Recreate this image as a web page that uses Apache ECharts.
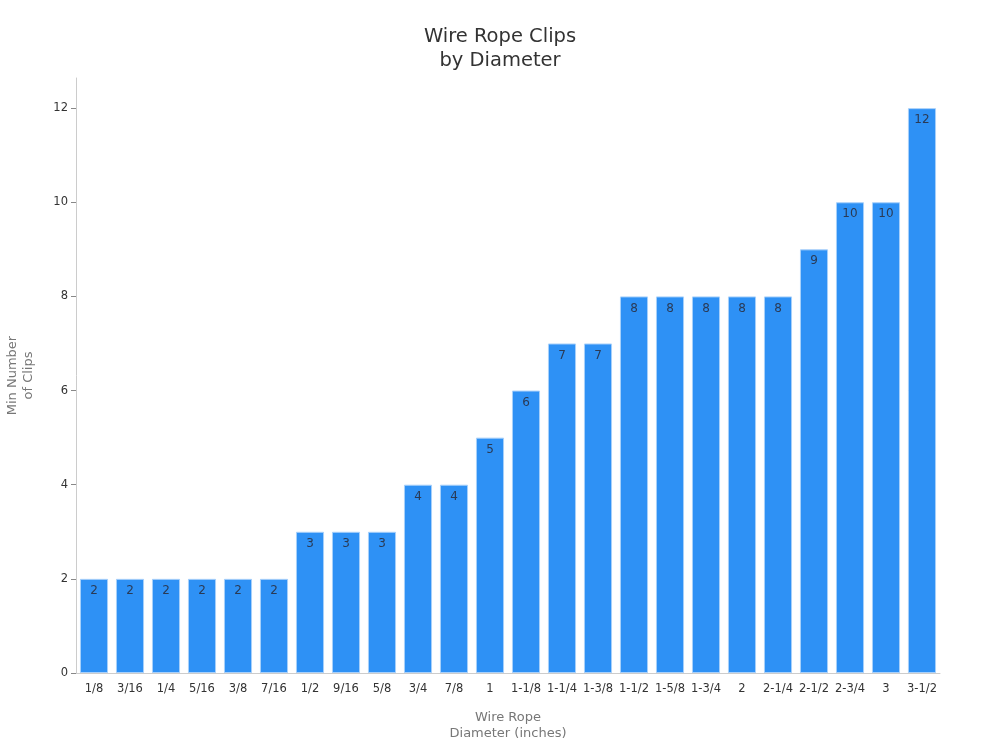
<!DOCTYPE html>
<html>
<head>
<meta charset="utf-8">
<script src="https://cdn.jsdelivr.net/npm/echarts@6/dist/echarts.min.js"></script>
<style>
  html, body { margin: 0; padding: 0; background: #fff; }
  #chart { width: 1000px; height: 750px; }
</style>
</head>
<body>
<div id="chart"></div>
<script>
var diameters = ['1/8', '3/16', '1/4', '5/16', '3/8', '7/16', '1/2', '9/16', '5/8', '3/4', '7/8', '1',
  '1-1/8', '1-1/4', '1-3/8', '1-1/2', '1-5/8', '1-3/4', '2', '2-1/4', '2-1/2', '2-3/4', '3', '3-1/2'];
var minClips = [2, 2, 2, 2, 2, 2, 3, 3, 3, 4, 4, 5, 6, 7, 7, 8, 8, 8, 8, 8, 9, 10, 10, 12];
var yTicks = [0, 2, 4, 6, 8, 10, 12];

var myChart = echarts.init(document.getElementById('chart'));

var option = {
  backgroundColor: '#ffffff',
  textStyle: { fontFamily: 'DejaVu Sans' },
  title: {
    text: 'Wire Rope Clips\nby Diameter',
    left: 'center',
    top: 20,
    textStyle: {
      color: '#333333',
      fontSize: 19.5,
      fontWeight: 'normal',
      lineHeight: 24,
      fontFamily: 'DejaVu Sans'
    }
  },
  grid: {
    left: 76,
    right: 60,
    top: 78,
    bottom: 77,
    outerBoundsMode: 'none',
    containLabel: false
  },
  xAxis: {
    type: 'category',
    data: diameters,
    name: 'Wire Rope\nDiameter (inches)',
    nameLocation: 'middle',
    nameGap: 37,
    nameTextStyle: { color: '#777777', fontSize: 13, lineHeight: 16 },
    axisLine: { lineStyle: { color: '#cccccc' } },
    axisTick: { alignWithLabel: true, length: 5, lineStyle: { color: '#888888' } },
    axisLabel: { color: '#333333', fontSize: 11.5, margin: 10, interval: 0 }
  },
  yAxis: {
    type: 'value',
    min: 0,
    max: 12.64,
    name: 'Min Number\nof Clips',
    nameLocation: 'middle',
    nameGap: 39,
    nameRotate: 90,
    nameTextStyle: { color: '#777777', fontSize: 13, lineHeight: 16 },
    axisLine: { show: true, lineStyle: { color: '#cccccc' } },
    axisTick: { show: true, length: 5, customValues: yTicks, lineStyle: { color: '#888888' } },
    axisLabel: { color: '#333333', fontSize: 11.5, margin: 8, customValues: yTicks },
    splitLine: { show: false }
  },
  series: [{
    type: 'bar',
    data: minClips,
    barCategoryGap: '22%',
    itemStyle: {
      color: '#2e91f5',
      borderColor: '#a8d0fa',
      borderWidth: 1
    },
    label: {
      show: true,
      position: 'insideTop',
      distance: 6,
      color: '#2a3a55',
      fontSize: 12
    }
  }]
};

myChart.setOption(option);
</script>
</body>
</html>
